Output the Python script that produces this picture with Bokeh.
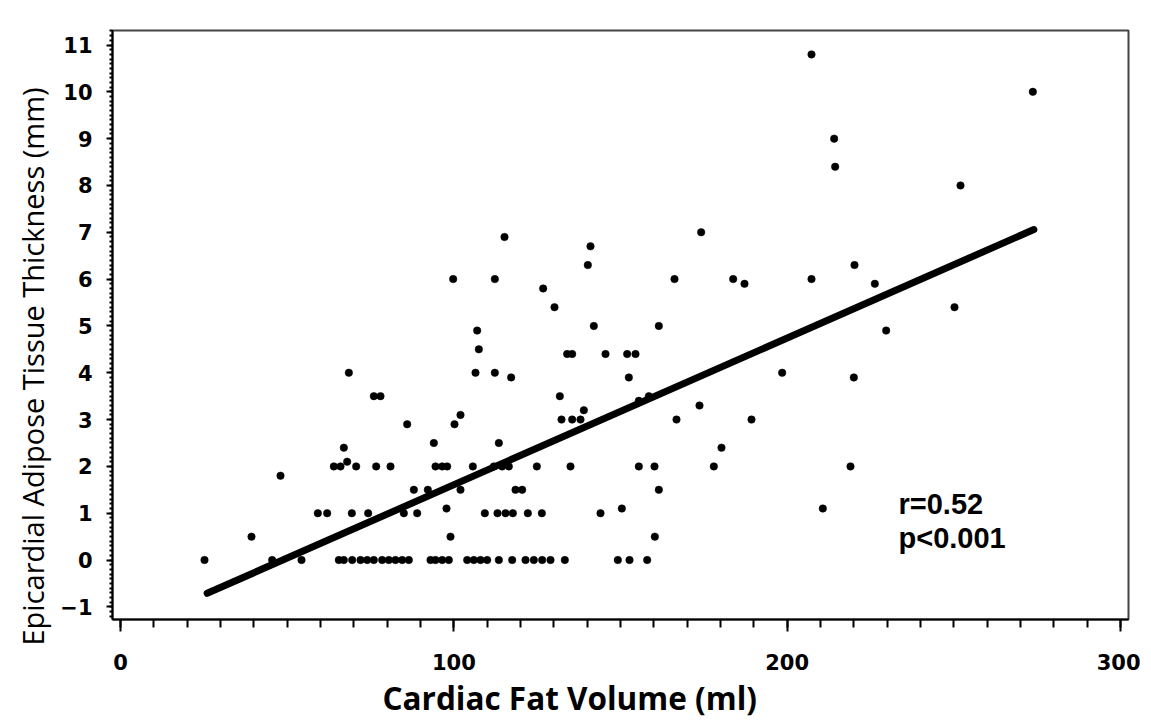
from bokeh.plotting import figure
from bokeh.models import Range1d, Label, SingleIntervalTicker, Title
from bokeh.embed import file_html
from bokeh.resources import INLINE

# ---- data ----
fat_volume = [
    # y = 0
    25.2, 45.5, 54.3, 65.5, 67, 69.5, 72, 74, 76, 78.5, 80.5, 82.5, 84.5, 86.5,
    93, 94.5, 96.5, 98.5, 104, 106, 108, 110, 113.5, 117.5, 121.5, 124, 126.5,
    129, 133.3, 149.2, 152.7, 158,
    # y = 0.5
    39.3, 99, 160.3,
    # y = 1
    59.2, 62, 69.4, 74.3, 85, 89, 109.3, 113.1, 115.5, 117.7, 122.2, 126.4, 144,
    # y = 1.1
    97.8, 150.4, 210.7,
    # y = 1.5
    88, 92.2, 102, 118.5, 120.5, 161.5,
    # y = 1.8
    48,
    # y = 2
    64, 66, 70.7, 76.7, 81, 94.5, 96.5, 98, 105.7, 112, 114.5, 116.5, 124.9,
    135, 155.5, 160.2, 178, 219,
    # y = 2.1
    68,
    # y = 2.4
    67, 180.3,
    # y = 2.5
    94, 113.5,
    # y = 2.9
    86, 100.2,
    # y = 3
    132.3, 135.5, 138, 166.8, 189.3,
    # y = 3.1 .. 3.5
    102, 139, 173.7, 155.5, 76, 78, 131.8, 158.5,
    # y = 3.9
    117.2, 152.5, 220,
    # y = 4
    68.5, 106.5, 112.3, 198.5,
    # y = 4.4
    134, 135.5, 145.5, 152, 154.5,
    # y = 4.5 .. 5.9
    107.5, 107, 229.7, 142, 161.5, 130.2, 250.2, 126.8, 187.2, 226.3,
    # y = 6
    99.8, 112.3, 166.2, 183.8, 207.3,
    # y >= 6.3
    140.2, 220.2, 141, 115.2, 174.2, 252, 214.4, 214.1, 273.7, 207.3,
]
eat_thickness = (
    [0] * 32
    + [0.5] * 3
    + [1] * 13
    + [1.1] * 3
    + [1.5] * 6
    + [1.8]
    + [2] * 18
    + [2.1]
    + [2.4] * 2
    + [2.5] * 2
    + [2.9] * 2
    + [3] * 5
    + [3.1, 3.2, 3.3, 3.4, 3.5, 3.5, 3.5, 3.5]
    + [3.9] * 3
    + [4] * 4
    + [4.4] * 5
    + [4.5, 4.9, 4.9, 5.0, 5.0, 5.4, 5.4, 5.8, 5.9, 5.9]
    + [6] * 5
    + [6.3, 6.3, 6.7, 6.9, 7.0, 8.0, 8.4, 9.0, 10.0, 10.8]
)

# regression line as drawn in the reference
fit_intercept = -1.525
fit_slope = 0.03133
fit_x = [26, 274]
fit_y = [fit_intercept + fit_slope * v for v in fit_x]

x_title = "Cardiac Fat Volume (ml)"
y_title = "Epicardial Adipose Tissue Thickness (mm)"
stats_lines = ["r=0.52", "p<0.001"]

W, H = 1140, 720
p = figure(width=W, height=H, output_backend="svg", toolbar_location=None,
           x_range=Range1d(-2.4, 302.4), y_range=Range1d(-1.27, 11.31),
           min_border_left=112, min_border_right=W - 112 - 1016,
           min_border_top=30, min_border_bottom=H - 30 - 589)
p.background_fill_color = "white"
p.border_fill_color = "white"
p.grid.visible = False
p.outline_line_color = "#444444"
p.outline_line_width = 2

TICK_FONT = "DejaVu Sans"
for ax in (p.xaxis[0], p.yaxis[0]):
    ax.axis_line_color = "black"
    ax.axis_line_width = 2
    ax.major_tick_line_color = "black"
    ax.minor_tick_line_color = "black"
    ax.major_tick_line_width = 2
    ax.minor_tick_line_width = 2
    ax.major_tick_in = 0
    ax.minor_tick_in = 0
    ax.major_label_text_font = TICK_FONT
    ax.major_label_text_font_style = "bold"
    ax.major_label_text_font_size = "21px"
    ax.major_label_text_color = "black"

xa = p.xaxis[0]
xa.ticker = SingleIntervalTicker(interval=100, num_minor_ticks=10)
xa.major_tick_out = 12
xa.minor_tick_out = 8
xa.major_label_standoff = 22

ya = p.yaxis[0]
ya.ticker = SingleIntervalTicker(interval=1, num_minor_ticks=10)
ya.major_tick_out = 6
ya.minor_tick_out = 3
ya.major_label_standoff = 14

p.scatter(fat_volume, eat_thickness, marker="circle", size=7.5,
          fill_color="black", line_color="black", line_width=0.5)
p.line(fit_x, fit_y, line_color="black", line_width=7, line_cap="round")

# axis titles, placed off-centre as in the reference
p.add_layout(Title(text=x_title, align="left", offset=270,
                   text_font="Open Sans", text_font_style="bold",
                   text_font_size="31.5px", text_color="black", standoff=2),
             "below")
p.add_layout(Title(text=y_title, align="left", offset=-26,
                   text_font="Open Sans", text_font_style="normal",
                   text_font_size="29px", text_color="black", standoff=12),
             "left")

for i, t in enumerate(stats_lines):
    p.add_layout(Label(x=233.4, y=1.19 - 0.71 * i, text=t,
                       text_font="Liberation Sans", text_font_style="bold",
                       text_font_size="29px", text_color="black",
                       text_baseline="alphabetic"))

open("out.html", "w").write(file_html(p, INLINE))
